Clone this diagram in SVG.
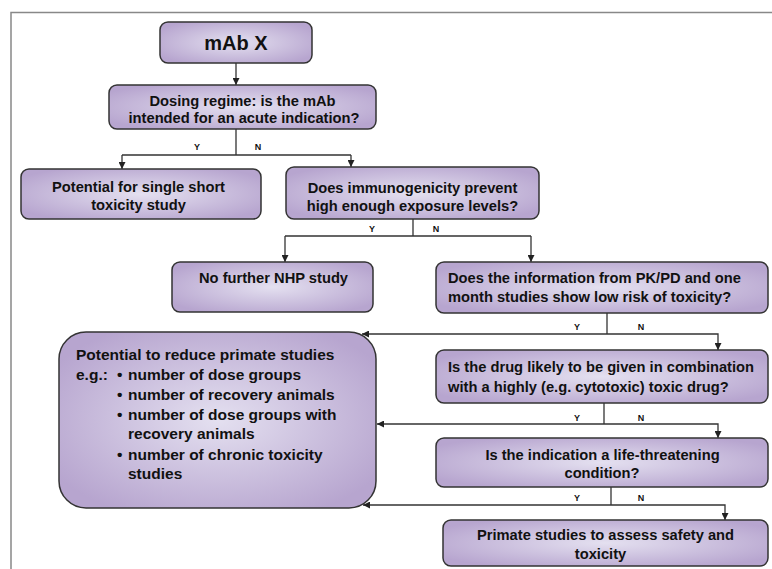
<svg xmlns="http://www.w3.org/2000/svg" width="772" height="569" viewBox="0 0 772 569">
<defs>
<radialGradient id="g" cx="50%" cy="50%" r="60%">
<stop offset="0%" stop-color="#e4e0f0"/>
<stop offset="100%" stop-color="#b7a5cf"/>
</radialGradient>
<marker id="ah" viewBox="0 0 10 10" refX="10" refY="5" markerWidth="7" markerHeight="7" markerUnits="userSpaceOnUse" orient="auto">
<path d="M0,0 L10,5 L0,10 z" fill="#222"/>
</marker>
<style>
.box{fill:url(#g);stroke:#333;stroke-width:1.5}
.t{font-family:"Liberation Sans",Arial,sans-serif;font-weight:bold;font-size:14.7px;fill:#111}
.c{text-anchor:middle}
.big{font-size:15.5px}
.yn{font-family:"Liberation Sans",Arial,sans-serif;font-weight:bold;font-size:9px;fill:#111;text-anchor:middle}
.ln{fill:none;stroke:#333;stroke-width:1.3}
.ar{fill:none;stroke:#333;stroke-width:1.3;marker-end:url(#ah)}
.fr{fill:none;stroke:#888;stroke-width:1.5}
</style>
</defs>
<rect width="772" height="569" fill="#fff"/>
<path class="fr" d="M772,12.5 L11,12.5 L11,569"/>

<g id="connectors">
<path class="ar" d="M236,63 L236,85"/>
<path class="ln" d="M236,129 L236,155 M122,155 L351,155"/>
<path class="ar" d="M122,155 L122,169"/>
<path class="ar" d="M351,155 L351,167"/>
<path class="ln" d="M413,219 L413,236 M285,236 L531,236"/>
<path class="ar" d="M285,236 L285,262"/>
<path class="ar" d="M531,236 L531,262"/>
<path class="ln" d="M607,313 L607,334"/>
<path class="ar" d="M607,334 L362,334"/>
<path class="ar" d="M607,334 L718,334 L718,350"/>
<path class="ln" d="M604,403 L604,424"/>
<path class="ar" d="M604,424 L377,424"/>
<path class="ar" d="M604,424 L718,424 L718,438"/>
<path class="ln" d="M611,487 L611,505"/>
<path class="ar" d="M611,505 L363,505"/>
<path class="ar" d="M611,505 L725,505 L725,520"/>
<text class="yn" x="197" y="150">Y</text><text class="yn" x="258" y="150">N</text>
<text class="yn" x="372" y="232">Y</text><text class="yn" x="436" y="232">N</text>
<text class="yn" x="577" y="330">Y</text><text class="yn" x="641" y="330">N</text>
<text class="yn" x="577" y="421">Y</text><text class="yn" x="641" y="421">N</text>
<text class="yn" x="577" y="501">Y</text><text class="yn" x="641" y="501">N</text>
</g>

<g id="mabx">
<rect class="box" x="160" y="22" width="152" height="41" rx="8"/>
<text class="t c" x="236" y="50" style="font-size:20px">mAb X</text>
</g>
<g id="dosing">
<rect class="box" x="109" y="85" width="267" height="44" rx="8"/>
<text class="t c" x="242.5" y="106">Dosing regime: is the mAb</text>
<text class="t c" x="244" y="123">intended for an acute indication?</text>
</g>
<g id="single">
<rect class="box" x="21" y="169" width="240" height="50" rx="8"/>
<text class="t c" x="138.5" y="192">Potential for single short</text>
<text class="t c" x="138.5" y="210">toxicity study</text>
</g>
<g id="immuno">
<rect class="box" x="286" y="167" width="253" height="52" rx="8"/>
<text class="t c" x="412.5" y="193">Does immunogenicity prevent</text>
<text class="t c" x="412.5" y="211">high enough exposure levels?</text>
</g>
<g id="nonhp">
<rect class="box" x="172" y="262" width="201" height="50" rx="8"/>
<text class="t c" x="273.5" y="283">No further NHP study</text>
</g>
<g id="pkpd">
<rect class="box" x="436" y="262" width="332" height="51" rx="8"/>
<text class="t" x="448" y="283">Does the information from PK/PD and one</text>
<text class="t" x="448" y="302">month studies show low risk of toxicity?</text>
</g>
<g id="reduce">
<rect class="box" x="59" y="332" width="317" height="176" rx="27"/>
<text class="t big" x="76" y="360">Potential to reduce primate studies</text>
<text class="t big" x="76" y="380">e.g.:</text>
<text class="t big" x="117" y="380">•</text><text class="t big" x="128" y="380">number of dose groups</text>
<text class="t big" x="117" y="400">•</text><text class="t big" x="128" y="400">number of recovery animals</text>
<text class="t big" x="117" y="420">•</text><text class="t big" x="128" y="420">number of dose groups with</text>
<text class="t big" x="128" y="439">recovery animals</text>
<text class="t big" x="117" y="460">•</text><text class="t big" x="128" y="460">number of chronic toxicity</text>
<text class="t big" x="128" y="479">studies</text>
</g>
<g id="combination">
<rect class="box" x="436" y="350" width="332" height="53" rx="8"/>
<text class="t" x="448" y="372">Is the drug likely to be given in combination</text>
<text class="t" x="448" y="392">with a highly (e.g. cytotoxic) toxic drug?</text>
</g>
<g id="life">
<rect class="box" x="436" y="438" width="332" height="49" rx="8"/>
<text class="t c" x="602.5" y="460">Is the indication a life-threatening</text>
<text class="t c" x="602" y="478">condition?</text>
</g>
<g id="primate">
<rect class="box" x="443" y="520" width="325" height="46" rx="8"/>
<text class="t c" x="605.5" y="540">Primate studies to assess safety and</text>
<text class="t c" x="600.5" y="559">toxicity</text>
</g>
</svg>
